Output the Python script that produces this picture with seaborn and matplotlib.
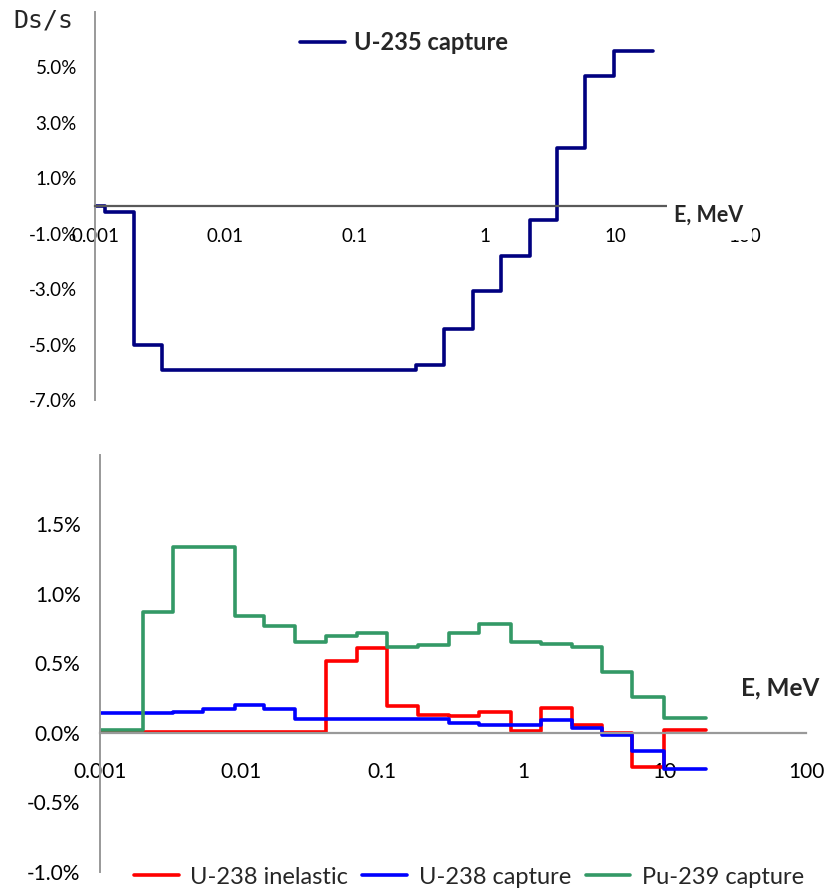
import matplotlib
matplotlib.use('Agg')
import matplotlib.pyplot as plt
import pandas as pd
import seaborn as sns
from matplotlib.patches import Rectangle
from matplotlib.ticker import FixedLocator, FuncFormatter, NullLocator

# Energy group boundaries, MeV
edges = [0.001, 0.0012, 0.002, 0.0033, 0.0054, 0.009, 0.0146, 0.0242, 0.0397, 0.066,
         0.108, 0.178, 0.297, 0.485, 0.81, 1.32, 2.2, 3.6, 5.85, 9.8, 19.5]

# Ds/s per group, in percent
u235_capture = [0.0, -0.22, -5.0, -5.9, -5.9, -5.9, -5.9, -5.9, -5.9, -5.9,
                -5.9, -5.9, -5.75, -4.45, -3.05, -1.8, -0.5, 2.1, 4.7, 5.6]
u238_inelastic = [0.007, 0.007, 0.007, 0.007, 0.007, 0.007, 0.007, 0.007, 0.52, 0.61,
                  0.196, 0.13, 0.12, 0.148, 0.01, 0.18, 0.055, 0.0, -0.245, 0.017]
u238_capture = [0.144, 0.144, 0.144, 0.153, 0.168, 0.2, 0.173, 0.096, 0.096, 0.096,
                0.096, 0.096, 0.07, 0.055, 0.055, 0.09, 0.036, -0.017, -0.13, -0.26]
pu239_capture = [0.019, 0.019, 0.868, 1.338, 1.338, 0.844, 0.767, 0.655, 0.70, 0.72,
                 0.616, 0.63, 0.72, 0.78, 0.652, 0.64, 0.616, 0.44, 0.26, 0.108]

x_ticks = [0.001, 0.01, 0.1, 1, 10, 100]
x_labels = ['0.001', '0.01', '0.1', '1', '10', '100']
top_yticks = [-7, -5, -3, -1, 1, 3, 5]
bottom_yticks = [-1.0, -0.5, 0.0, 0.5, 1.0, 1.5]

series_names = ['U-238 inelastic', 'U-238 capture', 'Pu-239 capture']
palette = {'U-238 inelastic': '#FF0000', 'U-238 capture': '#0000FF', 'Pu-239 capture': '#339966'}


def steps_frame(values, name):
    # repeat last value so steps-post draws the final group to its upper edge
    return pd.DataFrame({'E': edges, 'ds': values + [values[-1]], 'series': name})


def style_axes(ax, yticks, fs, xpad, ypad, zero_color):
    ax.set_xscale('log')
    ax.xaxis.set_major_locator(FixedLocator(x_ticks))
    ax.set_xticklabels(x_labels)
    ax.xaxis.set_minor_locator(NullLocator())
    ax.yaxis.set_major_locator(FixedLocator(yticks))
    ax.yaxis.set_major_formatter(FuncFormatter(lambda v, p: f'{v:.1f}%'))
    ax.tick_params(axis='x', length=0, pad=xpad, labelsize=fs, colors='black')
    ax.tick_params(axis='y', length=0, pad=ypad, labelsize=fs, colors='black')
    for s in ['top', 'right']:
        ax.spines[s].set_visible(False)
    ax.spines['bottom'].set_position(('data', 0))
    ax.spines['bottom'].set_color(zero_color)
    ax.spines['bottom'].set_linewidth(1.6)
    ax.spines['left'].set_color('#999999')
    ax.spines['left'].set_linewidth(1.4)
    ax.set(xlabel='', ylabel='')
    ax.grid(False)


sns.set_style('white')
plt.rcParams['font.family'] = ['Lato', 'DejaVu Sans']

W, H = 825, 891
fig = plt.figure(figsize=(W / 100, H / 100), dpi=100)

# ---- top panel: U-235 capture
ax1 = fig.add_axes([95 / W, 1 - 400 / H, 650 / W, 388 / H])
ax1.set_xscale('log')
sns.lineplot(data=steps_frame(u235_capture, 'U-235 capture'), x='E', y='ds', color='#000080',
             drawstyle='steps-post', linewidth=2.6, estimator=None, sort=False,
             label='U-235 capture', ax=ax1)
ax1.set_xlim(0.001, 100)
ax1.set_ylim(-7, 7)
style_axes(ax1, top_yticks, 13.5, 16, 13, '#595959')
ax1.legend(loc='center', bbox_to_anchor=(404 / W, 1 - 43 / H), bbox_transform=fig.transFigure,
           frameon=False, handlelength=1.9, handletextpad=0.35,
           prop={'weight': 'bold', 'size': 17})

# white box with the axis title that hides the end of the axis line
fig.add_artist(Rectangle((667 / W, 1 - 240 / H), 85 / W, 45 / H, transform=fig.transFigure,
                         facecolor='white', edgecolor='none', zorder=5))
fig.text(709 / W, 1 - 215 / H, 'E, MeV', ha='center', va='center', fontsize=15.5,
         fontweight='bold', zorder=6)
fig.text(13 / W, 1 - 21 / H, 'Ds/s', ha='left', va='center', fontsize=18,
         family='DejaVu Sans Mono')

# ---- bottom panel: U-238 / Pu-239
ax2 = fig.add_axes([100 / W, 1 - 871.7 / H, 706 / W, 416.7 / H])
ax2.set_xscale('log')
bottom_df = pd.concat([steps_frame(u238_inelastic, series_names[0]),
                       steps_frame(u238_capture, series_names[1]),
                       steps_frame(pu239_capture, series_names[2])], ignore_index=True)
sns.lineplot(data=bottom_df, x='E', y='ds', hue='series', hue_order=series_names, palette=palette,
             drawstyle='steps-post', linewidth=2.6, estimator=None, sort=False, ax=ax2)
ax2.set_xlim(0.001, 100)
ax2.set_ylim(-1, 2)
style_axes(ax2, bottom_yticks, 15, 21, 14, '#999999')
sns.move_legend(ax2, 'center', bbox_to_anchor=(469 / W, 1 - 877 / H), bbox_transform=fig.transFigure,
                ncol=3, frameon=False, title=None, fontsize=17, handlelength=1.9,
                handletextpad=0.5, columnspacing=0.6)
for line in ax2.get_legend().get_lines():
    line.set_linewidth(2.6)
fig.text(780 / W, 1 - 688 / H, 'E, MeV', ha='center', va='center', fontsize=17.5,
         fontweight='bold')

fig.savefig('out.png', dpi=100)
